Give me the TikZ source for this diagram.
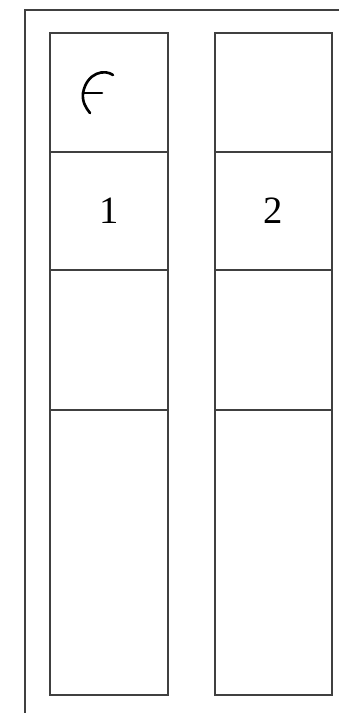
\documentclass[tikz,border=0pt]{standalone}
\usepackage{fontspec}
\setmainfont{Liberation Serif}
\usetikzlibrary{positioning}
\begin{document}
\begin{tikzpicture}[
  x=0.02cm, y=-0.02cm,
  font=\fontsize{22}{26}\selectfont,
  cell/.style={draw=black!75,line width=1pt,minimum width=2.35cm,
    inner sep=0pt,outer sep=0pt,anchor=north},
  frame/.style={draw=black!75,line width=1pt},
  glyph/.style={draw=black,line width=1.5pt,line cap=round}]
\useasboundingbox (0,0) rectangle (339,713);
% outer frame
\draw[frame] (339,10) -- (25,10) -- (25,713);
% left column
\node[cell,minimum height=2.38cm] (lcell1) at (109,33) {};
\node[cell,minimum height=2.36cm,below=0pt of lcell1] (lcell2) {1};
\node[cell,minimum height=2.80cm,below=0pt of lcell2] (lcell3) {};
\node[cell,minimum height=5.70cm,below=0pt of lcell3] (lcell4) {};
% right column
\node[cell,minimum height=2.38cm] (rcell1) at (273.5,33) {};
\node[cell,minimum height=2.36cm,below=0pt of rcell1] (rcell2) {2};
\node[cell,minimum height=2.80cm,below=0pt of rcell2] (rcell3) {};
\node[cell,minimum height=5.70cm,below=0pt of rcell3] (rcell4) {};
% mark in the top left cell
\draw[glyph] (113,75) .. controls (105,69) and (87,72) .. (83,93)
  .. controls (82,102) and (86,108) .. (90,113);
\draw[glyph] (83,93) -- (102,93);
\end{tikzpicture}
\end{document}
